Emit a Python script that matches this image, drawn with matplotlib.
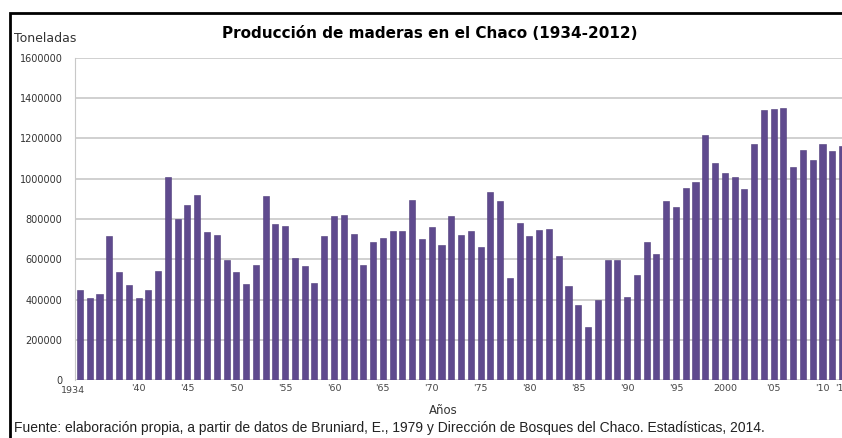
import numpy as np
import matplotlib.pyplot as plt
from matplotlib.patches import Rectangle
from matplotlib.transforms import ScaledTranslation

# production in tonnes, 1934-2012
years = np.arange(1934, 2013)
tonnes = [447000, 407000, 425000, 717000, 538000, 473000, 407000, 445000, 542000, 1010000,
          802000, 868000, 920000, 733000, 722000, 597000, 535000, 475000, 572000, 912000,
          775000, 765000, 605000, 567000, 483000, 717000, 813000, 822000, 725000, 570000,
          687000, 705000, 742000, 742000, 895000, 700000, 760000, 670000, 815000, 720000,
          742000, 663000, 933000, 887000, 507000, 778000, 717000, 743000, 752000, 615000,
          465000, 373000, 262000, 398000, 598000, 598000, 413000, 523000, 688000, 628000,
          887000, 858000, 952000, 985000, 1215000, 1077000, 1028000, 1010000, 948000, 1173000,
          1343000, 1348000, 1352000, 1058000, 1143000, 1093000, 1173000, 1138000, 1163000]
tick_years = [1934, 1940, 1945, 1950, 1955, 1960, 1965, 1970, 1975, 1980, 1985,
              1990, 1995, 2000, 2005, 2010, 2012]
tick_labels = ['1934', "'40", "'45", "'50", "'55", "'60", "'65", "'70", "'75", "'80",
               "'85", "'90", "'95", '2000', "'05", "'10", "'12"]

W, H = 842, 438
fig = plt.figure(figsize=(W / 100, H / 100), dpi=100)

# black frame of the original screenshot (right/bottom cut off)
fig.patches.append(Rectangle((10 / W, -0.1), 1.1, 1 - 13 / H + 0.1,
                             transform=fig.transFigure, fill=False,
                             edgecolor='black', linewidth=2))

ax = fig.add_axes([75 / W, 1 - 380 / H, 769 / W, (380 - 58) / H])
ax.bar(years, tonnes, width=0.62, color='#5f4a8e', edgecolor='#4e3a7a', linewidth=0.4, zorder=3)

ax.set_xlim(1933.49, 1933.49 + 769 / 9.77)
ax.set_ylim(0, 1600000)
ax.set_yticks(np.arange(0, 1600001, 200000))
ax.set_yticklabels([str(v) for v in range(0, 1600001, 200000)], fontsize=7, color='#333333')
ax.set_xticks(tick_years)
ax.set_xticklabels(tick_labels, fontsize=6.8, color='#444444')
ax.tick_params(length=0, pad=3)
ax.tick_params(axis='y', pad=9)
ax.grid(axis='y', color='#c8c8c8', linewidth=1.2, zorder=0)
for s in ['top', 'right', 'bottom']:
    ax.spines[s].set_visible(False)
ax.spines['left'].set_color('#c8c8c8')

# first year label sits a bit left of its bar, like in Excel
first = ax.get_xticklabels()[0]
first.set_transform(first.get_transform() + ScaledTranslation(-5 / 72, -1 / 72, fig.dpi_scale_trans))

fig.text(430 / W, 1 - 33 / H, 'Producción de maderas en el Chaco (1934-2012)',
         ha='center', va='center', fontsize=11, fontweight='bold', family='DejaVu Sans')
fig.text(14 / W, 1 - 38 / H, 'Toneladas', ha='left', va='center', fontsize=9, color='#333333')
fig.text(443 / W, 1 - 410 / H, 'Años', ha='center', va='center', fontsize=8.5, color='#333333')
fig.text(14 / W, 1 - 428 / H,
         'Fuente: elaboración propia, a partir de datos de Bruniard, E., 1979 y Dirección de Bosques del Chaco. Estadísticas, 2014.',
         ha='left', va='center', fontsize=10, family='Liberation Sans', color='#222222')

fig.savefig('out.png', dpi=100)
